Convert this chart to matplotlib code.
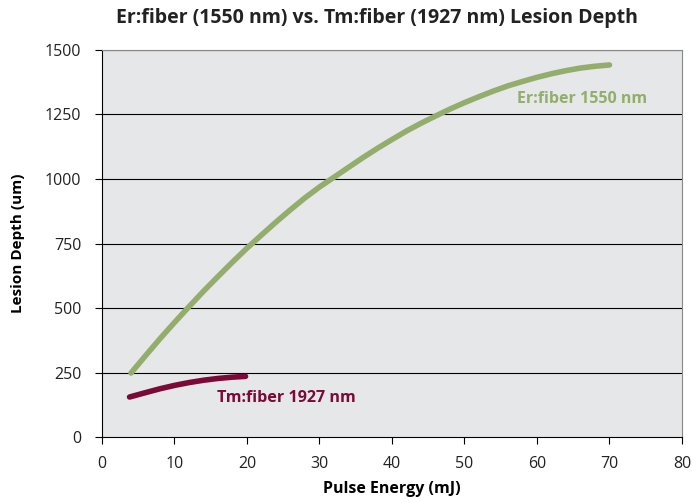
import matplotlib
matplotlib.use("Agg")
import matplotlib.pyplot as plt

# Data
er_energy = [4, 6, 8, 10, 12, 14, 16, 18, 20, 22, 24, 26, 28, 30, 32, 34, 36, 38,
             40, 42, 44, 46, 48, 50, 52, 54, 56, 58, 60, 62, 64, 66, 68, 70]
er_depth = [248, 315, 381, 444, 505, 565, 622, 678, 732, 783, 833, 881, 927, 969,
            1007, 1045, 1083, 1119, 1153, 1186, 1216, 1244, 1271, 1296, 1319, 1341,
            1361, 1378, 1394, 1408, 1420, 1430, 1437, 1442]
tm_energy = [3.8, 6, 8, 10, 12, 14, 16, 18, 19.8]
tm_depth = [155, 172, 187, 200, 211, 220, 227, 232, 235]

x_ticks = list(range(0, 81, 10))
y_ticks = list(range(0, 1501, 250))

ER_COLOR = "#93ae6c"
TM_COLOR = "#7b0a38"

plt.rcParams["font.family"] = ["Open Sans", "DejaVu Sans"]

fig = plt.figure(figsize=(6.92, 5.03), dpi=100)
ax = fig.add_axes([0.1474, 0.1312, 0.8381, 0.7694])
ax.set_facecolor("#e6e7e8")

for y in y_ticks[1:]:
    ax.axhline(y, color="black", lw=0.8, zorder=1)

ax.plot(er_energy, er_depth, color=ER_COLOR, lw=4, solid_capstyle="round", zorder=3)
ax.plot(tm_energy, tm_depth, color=TM_COLOR, lw=4, solid_capstyle="round", zorder=3)

ax.text(57.3, 1310, "Er:fiber 1550 nm", color=ER_COLOR, fontsize=11.5,
        fontweight="bold", va="center")
ax.text(15.8, 151, "Tm:fiber 1927 nm", color=TM_COLOR, fontsize=11.6,
        fontweight="bold", va="center")

ax.set_xlim(0, 80)
ax.set_ylim(0, 1500)
ax.set_xticks(x_ticks)
ax.set_yticks(y_ticks)
ax.tick_params(labelsize=11.5, length=5, color="black", colors="#222222")
ax.tick_params(axis="y", pad=10)
ax.tick_params(axis="x", pad=9)

for side in ["top", "right"]:
    ax.spines[side].set_color("#888888")
ax.spines["left"].set_color("black")
ax.spines["bottom"].set_color("black")

ax.set_xlabel("Pulse Energy (mJ)", fontsize=11.5, fontweight="bold", labelpad=6)
ax.set_ylabel("Lesion Depth (um)", fontsize=11, fontweight="bold", labelpad=14)
fig.suptitle("Er:fiber (1550 nm) vs. Tm:fiber (1927 nm) Lesion Depth",
             x=0.545, y=0.985, fontsize=14, fontweight="bold", color="#222222")

fig.savefig("out.png", dpi=100)
